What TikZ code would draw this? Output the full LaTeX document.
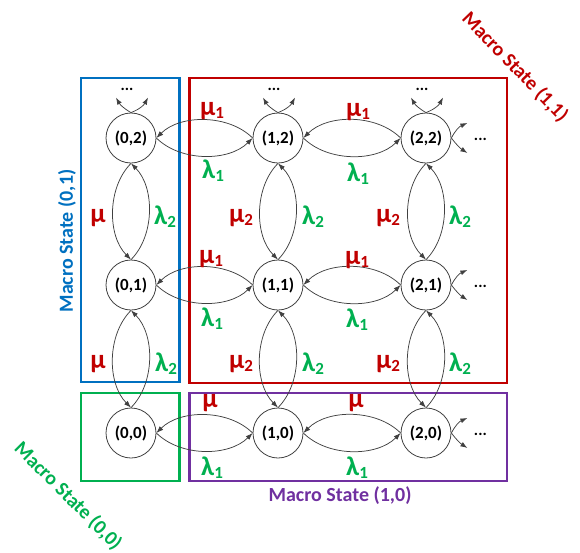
\documentclass[tikz,border=0pt]{standalone}
\usepackage{fontspec}
\setmainfont{Carlito}
\usetikzlibrary{arrows.meta}
\definecolor{cred}{HTML}{C00000}
\definecolor{cgreen}{HTML}{00B050}
\definecolor{cblue}{HTML}{0070C0}
\definecolor{cpurple}{HTML}{7030A0}
\definecolor{lgray}{HTML}{404040}
\newcommand\lsub[1]{\raisebox{-3pt}{\fontsize{17}{17}\selectfont #1}}
\begin{document}
\begin{tikzpicture}[x=1pt,y=1pt,
  state/.style={circle,draw=lgray,line width=0.8pt,minimum size=50pt,inner sep=0pt,
    font=\fontsize{17}{17}\selectfont\bfseries},
  arc/.style={draw=lgray,line width=0.75pt,-{Latex[length=7pt,width=5pt]}},
  stub/.style={draw=lgray,line width=0.75pt,-{Latex[length=7pt,width=5pt]}},
  dots/.style={anchor=base,inner sep=0pt,font=\fontsize{16}{16}\selectfont\bfseries},
  redlab/.style={anchor=base,inner sep=0pt,text=cred,font=\fontsize{27}{27}\selectfont\bfseries},
  greenlab/.style={anchor=base,inner sep=0pt,text=cgreen,font=\fontsize{27}{27}\selectfont\bfseries},
  macro/.style={inner sep=0pt,font=\fontsize{20}{20}\selectfont\bfseries},
  boxline/.style={line width=2.6pt}
]
\useasboundingbox (0,0) rectangle (580,-552);

% boxes
\draw[boxline,cblue] (81,-78) rectangle (179.7,-382);
\draw[boxline,cred] (189.7,-78) rectangle (507,-383);
\draw[boxline,cgreen] (81,-393) rectangle (179.7,-481);
\draw[boxline,cpurple] (189.7,-393) rectangle (507,-481);

% macro labels
\node[macro,text=cblue,rotate=90] (m01) at (67,-241) {Macro State (0,1)};
\node[macro,text=cred,rotate=-46] (m11) at (515,-67) {Macro State (1,1)};
\node[macro,text=cgreen,rotate=-45] (m00) at (68,-496) {Macro State (0,0)};
\node[macro,text=cpurple,anchor=base] (m10) at (340,-501) {Macro State (1,0)};

% states
\foreach \i/\x in {0/131,1/278,2/426}{
  \foreach \j/\y in {0/433,1/285,2/138}{
    \node[state] (n\i\j) at (\x,-\y) {(\i,\j)};
  }
}

% horizontal transitions
\foreach \a/\b in {0/1,1/2}{
  \foreach \j in {0,1,2}{
    \draw[arc] (n\b\j.west) to[out=135,in=45,looseness=0.9] (n\a\j.east);
    \draw[arc] (n\a\j.east) to[out=-45,in=-135,looseness=0.9] (n\b\j.west);
  }
}
% vertical transitions
\foreach \i in {0,1,2}{
  \foreach \a/\b in {2/1,1/0}{
    \draw[arc] (n\i\a.south) to[out=-135,in=135,looseness=0.9] (n\i\b.north);
    \draw[arc] (n\i\b.north) to[out=45,in=-45,looseness=0.9] (n\i\a.south);
  }
}

% top stubs
\foreach \i in {0,1,2}{
  \coordinate (tl\i) at ([shift={(-15,15)}]n\i2.north);
  \coordinate (tr\i) at ([shift={(17,15)}]n\i2.north);
  \draw[stub] (n\i2.north) to[bend left=15] (tl\i);
  \draw[stub] (n\i2.north) to[bend right=20] (tr\i);
  \node[dots] (td\i) at ([shift={(-4,22)}]n\i2.north) {...};
}
% right stubs
\foreach \j in {0,1,2}{
  \coordinate (ru\j) at ([shift={(16,15)}]n2\j.east);
  \coordinate (rd\j) at ([shift={(16,-15)}]n2\j.east);
  \draw[stub] (n2\j.east) to[bend left=20] (ru\j);
  \draw[stub] (n2\j.east) to[bend right=10] (rd\j);
  \node[dots] (rdots\j) at ([shift={(29,-2)}]n2\j.east) {...};
}

% horizontal labels
\node[redlab] (h1) at (212,-115) {μ\lsub{1}};
\node[greenlab] (h2) at (213,-178) {λ\lsub{1}};
\node[redlab] (h3) at (358,-116) {μ\lsub{1}};
\node[greenlab] (h4) at (358,-181) {λ\lsub{1}};
\node[redlab] (h5) at (211,-263) {μ\lsub{1}};
\node[greenlab] (h6) at (212,-326) {λ\lsub{1}};
\node[redlab] (h7) at (357,-264) {μ\lsub{1}};
\node[greenlab] (h8) at (357,-327) {λ\lsub{1}};
\node[redlab] (h9) at (210,-407) {μ};
\node[greenlab] (h10) at (212,-475) {λ\lsub{1}};
\node[redlab] (h11) at (356,-407) {μ};
\node[greenlab] (h12) at (357,-475) {λ\lsub{1}};

% vertical labels
\node[redlab] (v1) at (98,-222) {μ};
\node[greenlab] (v2) at (165,-224) {λ\lsub{2}};
\node[redlab] (v3) at (241,-222) {μ\lsub{2}};
\node[greenlab] (v4) at (313,-224) {λ\lsub{2}};
\node[redlab] (v5) at (388,-222) {μ\lsub{2}};
\node[greenlab] (v6) at (460,-224) {λ\lsub{2}};
\node[redlab] (v7) at (98,-368) {μ};
\node[greenlab] (v8) at (166,-371) {λ\lsub{2}};
\node[redlab] (v9) at (241,-368) {μ\lsub{2}};
\node[greenlab] (v10) at (313,-371) {λ\lsub{2}};
\node[redlab] (v11) at (388,-368) {μ\lsub{2}};
\node[greenlab] (v12) at (460,-371) {λ\lsub{2}};
\end{tikzpicture}
\end{document}
